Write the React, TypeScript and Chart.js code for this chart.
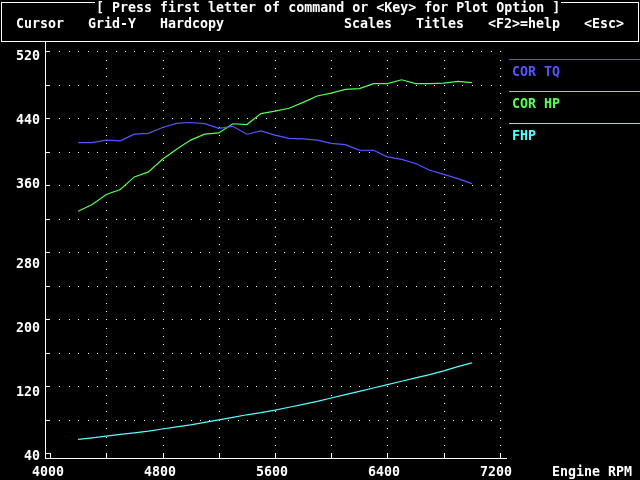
import React, { useEffect, useRef } from 'react';
import { Chart, registerables } from 'chart.js';

Chart.register(...registerables);

// ---- data ----
const RPM = [4200, 4300, 4400, 4500, 4600, 4700, 4800, 4900, 5000, 5100, 5200, 5300, 5400, 5500, 5600, 5700, 5800, 5900, 6000, 6100, 6200, 6300, 6400, 6500, 6600, 6700, 6800, 6900, 7000];
const COR_TQ = [411, 411, 414, 413, 421, 422, 429, 434, 435, 433.7, 428, 430.4, 421, 425, 420, 416, 415.5, 414, 410, 408.6, 402, 401.8, 394, 391, 386, 378, 373, 368, 362];
const COR_HP = [329, 337, 349, 355, 370, 376, 391, 403, 414, 421, 422.5, 433.5, 432.5, 445.6, 448.5, 452, 459, 466.6, 470, 474.5, 475.5, 481.4, 481.4, 486, 481.4, 481.4, 482, 484, 482.6];
const FHP = [56.7, 58.5, 60.5, 62.5, 64.5, 66.5, 69, 71.5, 74, 77, 80, 83, 86, 88.5, 91.5, 95, 98.5, 102, 106, 110, 114, 118, 122, 126, 130, 134, 138.5, 143.5, 148];
const SERIES_NAMES = ['COR TQ', 'COR HP', 'FHP'];

const X_TICKS = [4000, 4400, 4800, 5200, 5600, 6000, 6400, 6800, 7200];
const X_TICK_LABELS = ['4000', '4800', '5600', '6400', '7200'];
const Y_TICKS = [40, 80, 120, 160, 200, 240, 280, 320, 360, 400, 440, 480, 520];
const Y_TICK_LABELS = ['40', '120', '200', '280', '360', '440', '520'];

const MENU_TITLE = '[ Press first letter of command or <Key> for Plot Option ]';
const MENU_ITEMS = ['Cursor', 'Grid-Y', 'Hardcopy', 'Scales', 'Titles', '<F2>=help', '<Esc>'];
const X_AXIS_NAME = 'Engine RPM';

// ---- styling ----
const COLORS = ['#5555FF', '#55FF55', '#55FFFF'];
const FONT_FAMILY = '"DejaVu Sans Mono", "Liberation Mono", monospace';
const FONT_SIZE = 13.3;
const CW = 8; // character cell width
const ROW = 16; // character cell height
const TEXT_DY = 2; // glyph centre correction

const retroPlugin = {
  id: 'retro',
  beforeDraw(chart: any) {
    const xs = chart.scales.x;
    const ys = chart.scales.y;
    try {
      for (const it of ys.getLabelItems()) {
        const t = it.options.translation;
        if (it._snapped) continue;
        t[1] = Math.floor((t[1] + 5.2) / ROW) * ROW + 7 + TEXT_DY;
        it._snapped = true;
      }
      for (const it of xs.getLabelItems()) {
        const t = it.options.translation;
        const half = (String(it.label).length * CW) / 2;
        t[0] = Math.floor((t[0] - half) / CW) * CW + half;
      }
    } catch (e) {
      /* ignore */
    }
  },
  beforeDatasetsDraw(chart: any) {
    const ctx = chart.ctx;
    const xs = chart.scales.x;
    const ys = chart.scales.y;
    const ca = chart.chartArea;
    const x0 = X_TICKS[0];
    const x1 = X_TICKS[X_TICKS.length - 1];
    const y0 = Y_TICKS[0];
    const y1 = Y_TICKS[Y_TICKS.length - 1];
    const xStep = (X_TICKS[1] - X_TICKS[0]) / 6;
    const yStep = (Y_TICKS[1] - Y_TICKS[0]) / 4;
    ctx.save();
    ctx.fillStyle = '#fff';
    for (const v of Y_TICKS) {
      if (v === y0) continue;
      const py = Math.round(ys.getPixelForValue(v));
      for (let k = 1; x0 + k * xStep <= x1 + 1e-6; k++) {
        const px = Math.round(xs.getPixelForValue(x0 + k * xStep));
        ctx.fillRect(px, py, 1, 1);
      }
    }
    for (const v of X_TICKS) {
      if (v === x0) continue;
      const px = Math.round(xs.getPixelForValue(v));
      for (let k = 0; y0 + k * yStep <= y1 + 1e-6; k++) {
        const py = Math.round(ys.getPixelForValue(y0 + k * yStep));
        ctx.fillRect(px, py, 1, 1);
      }
    }
    for (const v of Y_TICKS) {
      const py = Math.round(ys.getPixelForValue(v));
      ctx.fillRect(ca.left, py, 5, 1);
    }
    for (const v of X_TICKS) {
      const px = Math.round(xs.getPixelForValue(v));
      ctx.fillRect(px, ca.bottom - 5, 1, 5);
    }
    ctx.restore();
  },
  afterDraw(chart: any) {
    const ctx = chart.ctx;
    ctx.save();
    ctx.strokeStyle = '#fff';
    ctx.lineWidth = 1;
    ctx.strokeRect(1.5, 2.5, 637, 39);
    ctx.font = `bold ${FONT_SIZE}px ${FONT_FAMILY}`;
    ctx.textBaseline = 'middle';
    ctx.textAlign = 'left';
    const tx = 12 * CW;
    const tw = MENU_TITLE.length * CW;
    ctx.fillStyle = '#000';
    ctx.fillRect(tx - 1, 0, tw + 2, 6);
    ctx.fillStyle = '#fff';
    ctx.fillText(MENU_TITLE, tx, 7 + TEXT_DY);
    const cols = [2, 11, 20, 43, 52, 61, 73];
    MENU_ITEMS.forEach((s, i) => ctx.fillText(s, cols[i] * CW, 23 + TEXT_DY));
    ctx.fillText(X_AXIS_NAME, 69 * CW, 471 + TEXT_DY);
    chart.data.datasets.forEach((ds: any, i: number) => {
      const ly = 59 + i * 32;
      ctx.fillStyle = ds.borderColor;
      ctx.fillRect(509, ly, 131, 1);
      ctx.fillText(ds.label, 64 * CW, ly + 12 + TEXT_DY);
    });
    ctx.restore();
  },
};

export default function App() {
  const ref = useRef<HTMLCanvasElement>(null);

  useEffect(() => {
    if (!ref.current) return;
    const series = [COR_TQ, COR_HP, FHP];
    const tickFont = { family: FONT_FAMILY, size: FONT_SIZE, weight: 'bold' as const };
    const chart = new Chart(ref.current, {
      type: 'line',
      data: {
        datasets: series.map((vals, i) => ({
          label: SERIES_NAMES[i],
          data: RPM.map((r, j) => ({ x: r, y: vals[j] })),
          borderColor: COLORS[i],
          backgroundColor: COLORS[i],
          borderWidth: 1.2,
          pointRadius: 0,
          tension: 0,
          fill: false,
        })),
      },
      options: {
        responsive: false,
        devicePixelRatio: 1,
        animation: false,
        events: [],
        layout: { padding: { top: 42, right: 134, left: 0, bottom: 0 } },
        plugins: {
          legend: { display: false },
          tooltip: { enabled: false },
          title: { display: false },
        },
        scales: {
          x: {
            type: 'linear',
            min: 3964.44,
            max: 7242.67,
            afterBuildTicks: (scale: any) => {
              scale.ticks = X_TICKS.map((v) => ({ value: v }));
            },
            afterFit: (scale: any) => {
              scale.height = 22;
            },
            grid: { display: false, drawTicks: false },
            border: { display: true, color: '#fff', width: 1 },
            ticks: {
              autoSkip: false,
              maxRotation: 0,
              padding: 5 + TEXT_DY,
              color: '#fff',
              font: tickFont,
              callback: (v: any) => (X_TICK_LABELS.includes(String(v)) ? String(v) : ''),
            },
          },
          y: {
            type: 'linear',
            min: 34.4,
            max: 531.1,
            afterBuildTicks: (scale: any) => {
              scale.ticks = Y_TICKS.map((v) => ({ value: v }));
            },
            afterFit: (scale: any) => {
              scale.width = 45;
            },
            grid: { display: false, drawTicks: false },
            border: { display: true, color: '#fff', width: 1 },
            ticks: {
              autoSkip: false,
              padding: 5,
              color: '#fff',
              font: tickFont,
              callback: (v: any) => (Y_TICK_LABELS.includes(String(v)) ? String(v) : ''),
            },
          },
        },
      },
      plugins: [retroPlugin],
    });
    return () => chart.destroy();
  }, []);

  return (
    <div style={{ position: 'fixed', left: 0, top: 0, width: 640, height: 480, background: '#000' }}>
      <canvas ref={ref} width={640} height={480} style={{ display: 'block', width: 640, height: 480 }} />
    </div>
  );
}
